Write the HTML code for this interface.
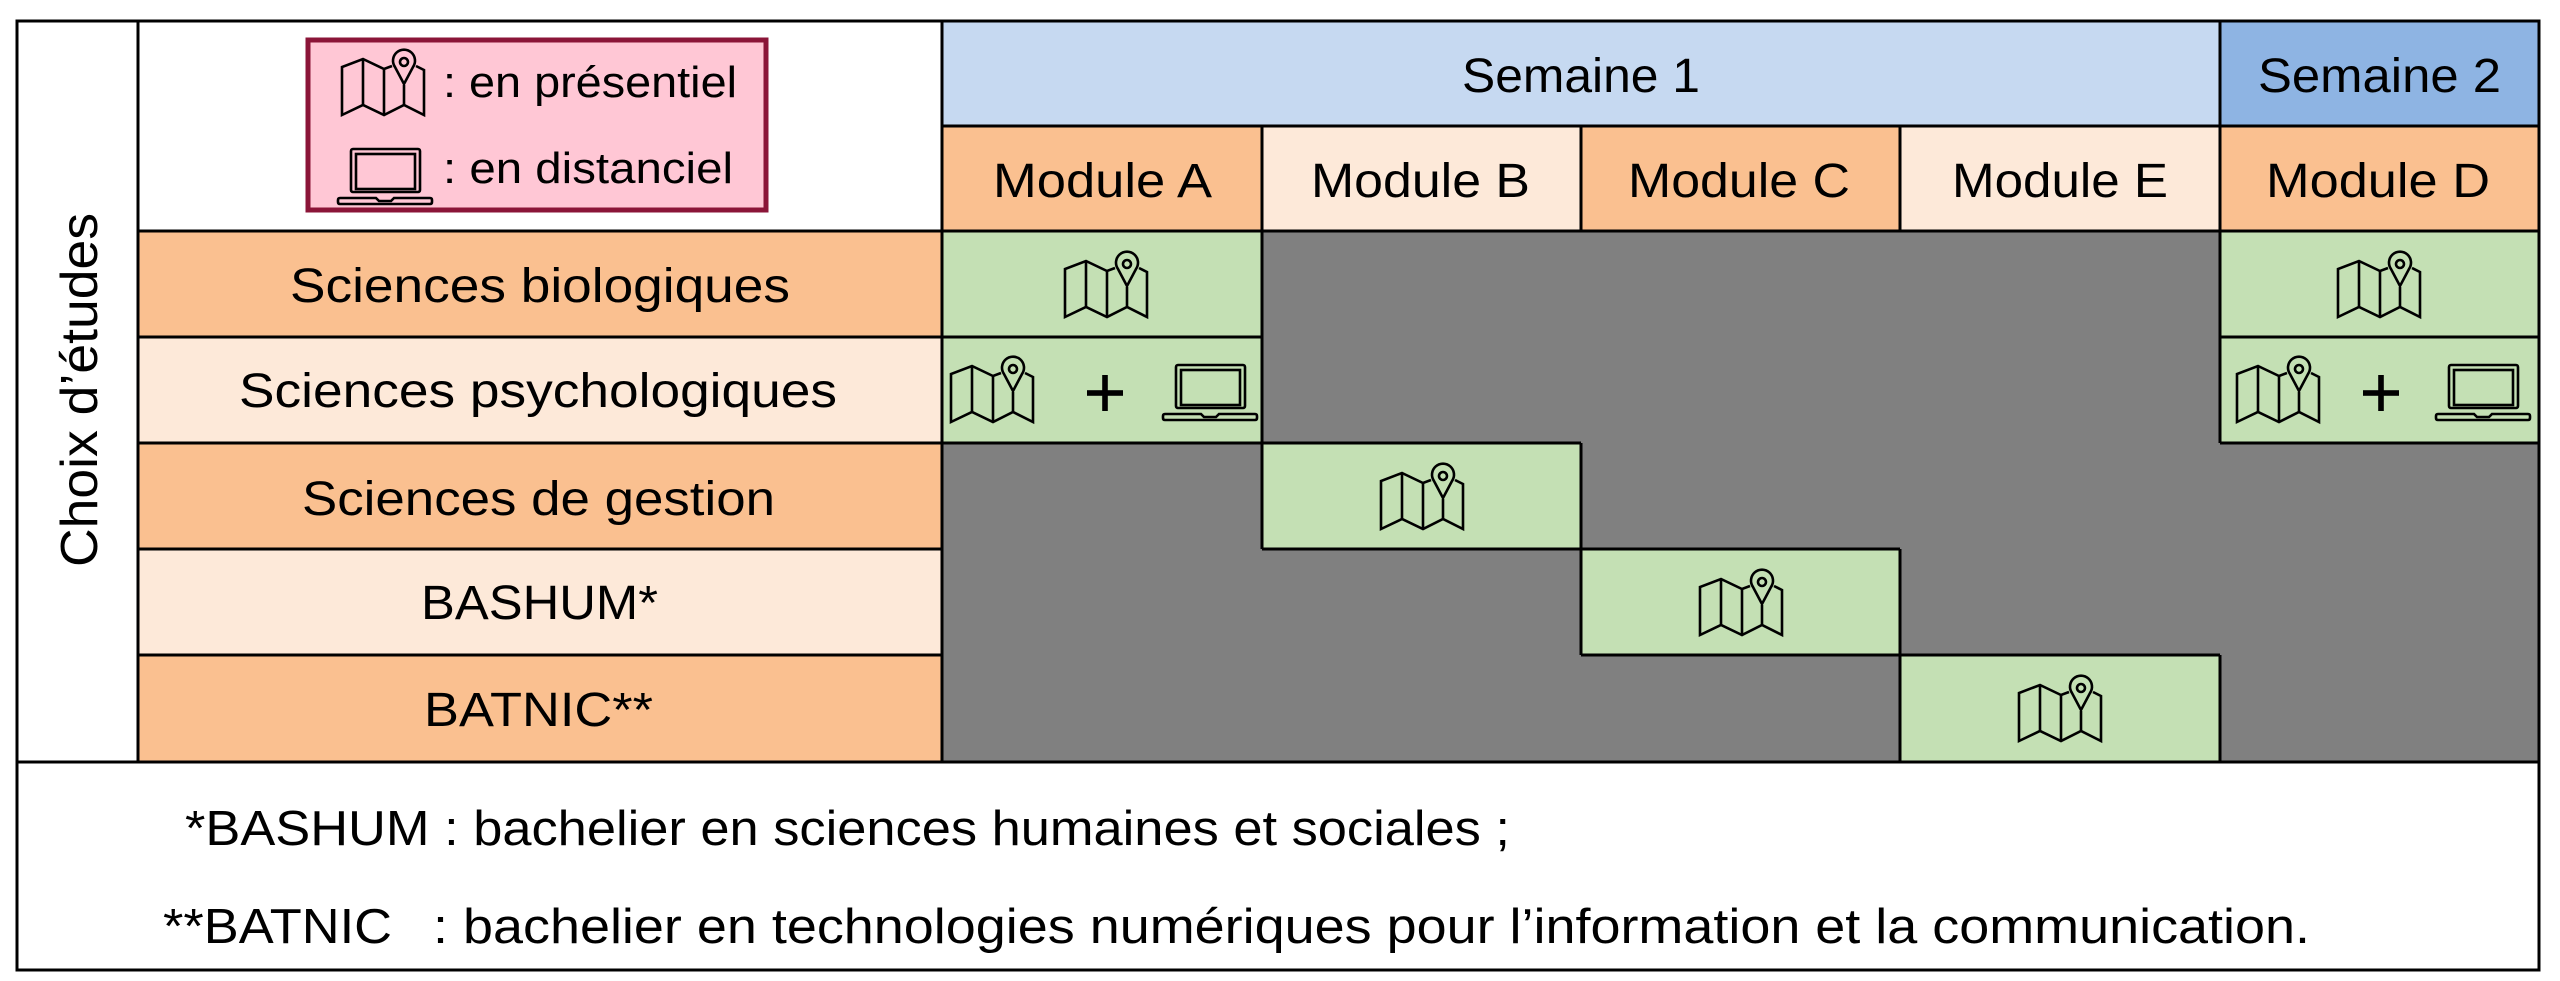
<!DOCTYPE html>
<html><head><meta charset="utf-8"><style>
html,body{margin:0;padding:0;background:#fff;}
svg{display:block;}
text{font-family:"Liberation Sans",sans-serif;fill:#000;}
</style></head><body>
<svg width="2560" height="981" viewBox="0 0 2560 981" xmlns="http://www.w3.org/2000/svg">
<defs>
<g id="map" fill="none" stroke="#000" stroke-width="2.6" stroke-linejoin="miter">
  <path d="M50,16 L42,19 L21,9 L0,17 L0,65 L21,55 L42,65 L62,55 L82,65 L82,20 L74,16"/>
  <path d="M21,9 L21,55 M42,19 L42,65 M62,35 L62,55"/>
  <path d="M62,34 L53,17 A11,11 0 1 1 71,17 Z"/>
  <circle cx="62" cy="12" r="4"/>
</g>
<g id="laptop" fill="none" stroke="#000" stroke-width="2.6">
  <rect x="13" y="1" width="69" height="43" rx="2"/>
  <rect x="18" y="6" width="59" height="35"/>
  <path d="M2,50 L38,50 L41,53 L53,53 L56,50 L92,50 Q94,50 94,52 L94,54 Q94,56 92,56 L2,56 Q0,56 0,54 L0,52 Q0,50 2,50 Z"/>
</g>
<g id="plus"><rect x="-18" y="-2.8" width="36" height="5.6"/><rect x="-2.8" y="-18" width="5.6" height="36"/></g>
</defs>

<rect x="17" y="21" width="2522" height="949" fill="#fff"/>
<rect x="942" y="21" width="1278" height="105" fill="#C6D9F1"/>
<rect x="2220" y="21" width="319" height="105" fill="#8EB4E3"/>
<rect x="942" y="126" width="320" height="105" fill="#FAC090"/>
<rect x="1262" y="126" width="319" height="105" fill="#FDE9D9"/>
<rect x="1581" y="126" width="319" height="105" fill="#FAC090"/>
<rect x="1900" y="126" width="320" height="105" fill="#FDE9D9"/>
<rect x="2220" y="126" width="319" height="105" fill="#FAC090"/>

<rect x="138" y="231" width="804" height="106" fill="#FAC090"/>
<rect x="138" y="337" width="804" height="106" fill="#FDE9D9"/>
<rect x="138" y="443" width="804" height="106" fill="#FAC090"/>
<rect x="138" y="549" width="804" height="106" fill="#FDE9D9"/>
<rect x="138" y="655" width="804" height="107" fill="#FAC090"/>

<rect x="942" y="231" width="1597" height="531" fill="#808080"/>
<rect x="942" y="231" width="320" height="212" fill="#C4E0B4"/>
<rect x="2220" y="231" width="319" height="212" fill="#C4E0B4"/>
<rect x="1262" y="443" width="319" height="106" fill="#C4E0B4"/>
<rect x="1581" y="549" width="319" height="106" fill="#C4E0B4"/>
<rect x="1900" y="655" width="320" height="107" fill="#C4E0B4"/>

<rect x="308" y="40" width="458" height="170" fill="#FFC7D5" stroke="#8B1538" stroke-width="5"/>

<g stroke="#000" stroke-width="3" fill="none">
  <rect x="17" y="21" width="2522" height="949"/>
  <line x1="138" y1="21" x2="138" y2="762"/>
  <line x1="942" y1="21" x2="942" y2="762"/>
  <line x1="942" y1="126" x2="2539" y2="126"/>
  <line x1="138" y1="231" x2="2539" y2="231"/>
  <line x1="2220" y1="21" x2="2220" y2="443"/>
  <line x1="2220" y1="655" x2="2220" y2="762"/>
  <line x1="1262" y1="126" x2="1262" y2="231"/>
  <line x1="1581" y1="126" x2="1581" y2="231"/>
  <line x1="1900" y1="126" x2="1900" y2="231"/>
  <line x1="1262" y1="231" x2="1262" y2="549"/>
  <line x1="1581" y1="443" x2="1581" y2="655"/>
  <line x1="1900" y1="549" x2="1900" y2="762"/>
  <line x1="138" y1="337" x2="1262" y2="337"/>
  <line x1="2220" y1="337" x2="2539" y2="337"/>
  <line x1="138" y1="443" x2="1581" y2="443"/>
  <line x1="2220" y1="443" x2="2539" y2="443"/>
  <line x1="138" y1="549" x2="942" y2="549"/>
  <line x1="1262" y1="549" x2="1900" y2="549"/>
  <line x1="138" y1="655" x2="942" y2="655"/>
  <line x1="1581" y1="655" x2="2220" y2="655"/>
  <line x1="17" y1="762" x2="2539" y2="762"/>
</g>

<use href="#map" x="342" y="50"/>
<use href="#laptop" x="338" y="148"/>
<use href="#map" x="1065" y="252"/>
<use href="#map" x="2338" y="252"/>
<use href="#map" x="951" y="357"/>
<use href="#plus" x="1105" y="393"/>
<use href="#laptop" x="1163" y="364"/>
<use href="#map" x="2237" y="357"/>
<use href="#plus" x="2381" y="393"/>
<use href="#laptop" x="2436" y="364"/>
<use href="#map" x="1381" y="464"/>
<use href="#map" x="1700" y="570"/>
<use href="#map" x="2019" y="676"/>

<g font-size="44">
<text x="443" y="97" textLength="294" lengthAdjust="spacingAndGlyphs">: en présentiel</text>
<text x="443" y="183" textLength="290" lengthAdjust="spacingAndGlyphs">: en distanciel</text>
</g>
<g font-size="48">
<text x="1462" y="92" textLength="238" lengthAdjust="spacingAndGlyphs">Semaine 1</text>
<text x="2258" y="92" textLength="243" lengthAdjust="spacingAndGlyphs">Semaine 2</text>
<text x="993" y="197" textLength="219" lengthAdjust="spacingAndGlyphs">Module A</text>
<text x="1311" y="197" textLength="219" lengthAdjust="spacingAndGlyphs">Module B</text>
<text x="1628" y="197" textLength="222" lengthAdjust="spacingAndGlyphs">Module C</text>
<text x="1952" y="197" textLength="216" lengthAdjust="spacingAndGlyphs">Module E</text>
<text x="2266" y="197" textLength="224" lengthAdjust="spacingAndGlyphs">Module D</text>
<text x="290" y="302" textLength="500" lengthAdjust="spacingAndGlyphs">Sciences biologiques</text>
<text x="239" y="407" textLength="598" lengthAdjust="spacingAndGlyphs">Sciences psychologiques</text>
<text x="302" y="515" textLength="473" lengthAdjust="spacingAndGlyphs">Sciences de gestion</text>
<text x="421" y="619" textLength="237" lengthAdjust="spacingAndGlyphs">BASHUM*</text>
<text x="424" y="726" textLength="229" lengthAdjust="spacingAndGlyphs">BATNIC**</text>
</g>
<text font-size="52" transform="translate(97,567) rotate(-90)" textLength="354" lengthAdjust="spacingAndGlyphs">Choix d’études</text>
<g font-size="49">
<text x="185" y="845" textLength="1325" lengthAdjust="spacingAndGlyphs">*BASHUM : bachelier en sciences humaines et sociales ;</text>
<text x="163" y="943" textLength="229" lengthAdjust="spacingAndGlyphs">**BATNIC</text>
<text x="433" y="943" textLength="1877" lengthAdjust="spacingAndGlyphs">: bachelier en technologies numériques pour l’information et la communication.</text>
</g>
</svg>
</body></html>
